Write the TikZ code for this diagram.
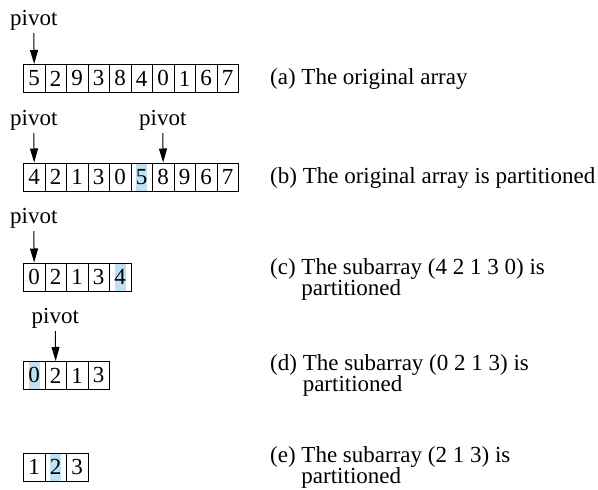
\documentclass[tikz,border=0pt]{standalone}
\usepackage{fontspec}
\setmainfont{Liberation Serif}
\usetikzlibrary{arrows.meta}
\definecolor{hlblue}{RGB}{190,226,244}
\tikzset{
 txt/.style={font=\fontsize{23}{20}\selectfont, inner sep=0pt},
 cell/.style={draw, line width=0.9pt, minimum width=21.5pt, minimum height=28pt, inner sep=0pt, anchor=north west, font=\fontsize{23}{20}\selectfont},
 hl/.style={path picture={\fill[hlblue] ([xshift=-5.5pt]path picture bounding box.south) rectangle ([xshift=5.5pt]path picture bounding box.north);}},
 pivlabel/.style={txt, anchor=base},
 parrow/.style={-{Triangle[length=14pt,width=8pt]}, line width=1pt, shorten <=3pt},
 lbl/.style={txt, anchor=base west}
}
\begin{document}
\begin{tikzpicture}[x=1pt,y=-1pt]
\useasboundingbox (0,0) rectangle (598,490);
% row (a)
\foreach \d/\s [count=\i from 0] in {5/,2/,9/,3/,8/,4/,0/,1/,6/,7/}
  \node[cell,\s] (a\i) at (23+21.5*\i,64) {\d};
\node[pivlabel] (pa) at (33.75,25) {pivot};
\draw[parrow] (pa.south) -- (a0.north);
\node[lbl] (la) at (270,84) {(a)\ The original array};
% row (b)
\foreach \d/\s [count=\i from 0] in {4/,2/,1/,3/,0/,5/hl,8/,9/,6/,7/}
  \node[cell,\s] (b\i) at (23+21.5*\i,162.5) {\d};
\node[pivlabel] (pb1) at (33.75,125) {pivot};
\node[pivlabel] (pb2) at (162.75,125) {pivot};
\draw[parrow] (pb1.south) -- (b0.north);
\draw[parrow] (pb2.south) -- (b6.north);
\node[lbl] (lb) at (270,183) {(b)\ The original array is partitioned};
% row (c)
\foreach \d/\s [count=\i from 0] in {0/,2/,1/,3/,4/hl}
  \node[cell,\s] (c\i) at (23+21.5*\i,262.5) {\d};
\node[pivlabel] (pc) at (33.75,223) {pivot};
\draw[parrow] (pc.south) -- (c0.north);
\node[lbl] (lc) at (270,274) {\begin{tabular}[t]{@{}l@{\ }l@{}}(c) & The subarray (4 2 1 3 0) is\\ & partitioned\end{tabular}};
% row (d)
\foreach \d/\s [count=\i from 0] in {0/hl,2/,1/,3/}
  \node[cell,\s] (d\i) at (23+21.5*\i,361) {\d};
\node[pivlabel] (pd) at (55.25,323) {pivot};
\draw[parrow] (pd.south) -- (d1.north);
\node[lbl] (ld) at (270,370) {\begin{tabular}[t]{@{}l@{\ }l@{}}(d) & The subarray (0 2 1 3) is\\ & partitioned\end{tabular}};
% row (e)
\foreach \d/\s [count=\i from 0] in {1/,2/hl,3/}
  \node[cell,\s] (e\i) at (23+21.5*\i,452.5) {\d};
\node[lbl] (le) at (270,462) {\begin{tabular}[t]{@{}l@{\ }l@{}}(e) & The subarray (2 1 3) is\\ & partitioned\end{tabular}};
\end{tikzpicture}
\end{document}
